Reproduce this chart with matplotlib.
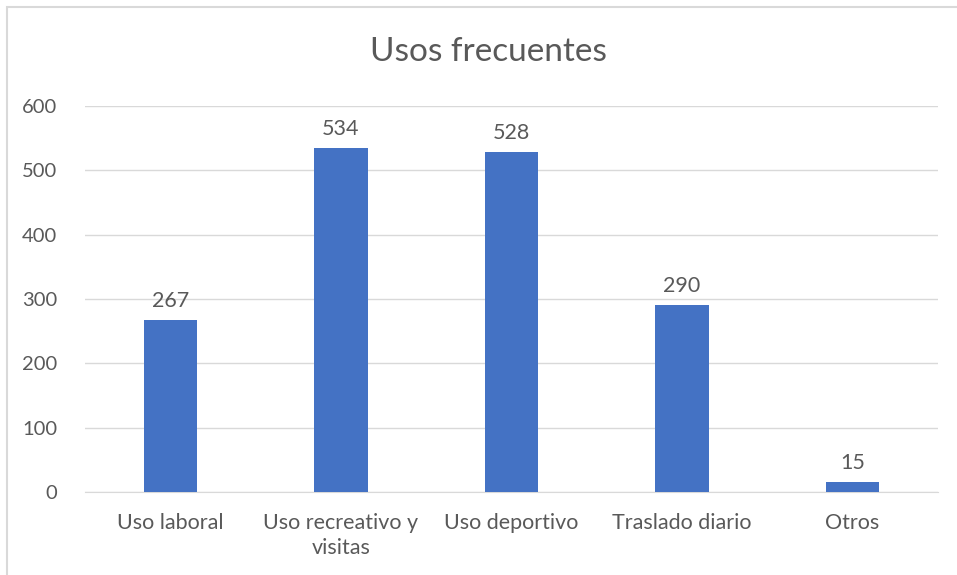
import matplotlib.pyplot as plt
from matplotlib.patches import Rectangle

categories = ["Uso laboral", "Uso recreativo y\nvisitas", "Uso deportivo", "Traslado diario", "Otros"]
values = [267, 534, 528, 290, 15]
yticks = [0, 100, 200, 300, 400, 500, 600]

plt.rcParams['font.family'] = ['Lato', 'DejaVu Sans']
text_color = '#595959'

fig = plt.figure(figsize=(9.57, 5.75), dpi=100)
ax = fig.add_axes([0.089, 0.1443, 0.891, 0.6714])

x = range(len(categories))
bars = ax.bar(x, values, width=0.315, color='#4472C4', zorder=3)
for xi, v in zip(x, values):
    ax.annotate(str(v), (xi, v), xytext=(0, 7), textcoords='offset points',
                ha='center', va='bottom', fontsize=15.5, color=text_color)

ax.set_xlim(-0.5, len(categories) - 0.5)
ax.set_ylim(0, 600)
ax.set_yticks(yticks)
ax.yaxis.grid(True, color='#D9D9D9', linewidth=1, zorder=0)
ax.set_xticks(list(x))
ax.set_xticklabels(categories, fontsize=15.5, color=text_color, linespacing=1.35,
                   multialignment='center')
ax.tick_params(axis='y', labelsize=14.5, labelcolor=text_color, length=0, pad=20)
ax.tick_params(axis='x', length=0, pad=15)
for side in ['top', 'right', 'left']:
    ax.spines[side].set_visible(False)
ax.spines['bottom'].set_color('#D9D9D9')

fig.text(0.51, 0.91, "Usos frecuentes", ha='center', va='center', fontsize=24, color=text_color)

fig.patches.append(Rectangle((0.0073, -0.05), 1.2, 1.0378, transform=fig.transFigure,
                             fill=False, edgecolor='#D9D9D9', linewidth=1.5))

fig.savefig('out.png', dpi=100)
